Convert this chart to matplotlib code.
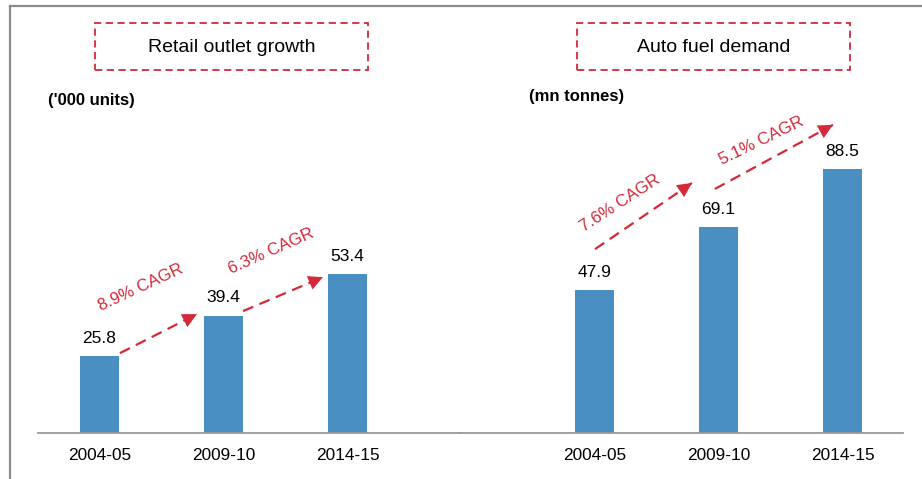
import matplotlib
matplotlib.use("Agg")
import matplotlib.pyplot as plt
from matplotlib.lines import Line2D
from matplotlib.patches import Rectangle

plt.rcParams['font.family'] = ['Liberation Sans', 'DejaVu Sans']

years = ["2004-05", "2009-10", "2014-15"]
outlets = [25.8, 39.4, 53.4]      # '000 units
fuel = [47.9, 69.1, 88.5]         # mn tonnes

# CAGR arrows: (label, start, end, text position, rotation) in data units
outlet_cagr = [("8.9% CAGR", (0.165, 26.8), (0.786, 39.9), (0.335, 48.7), 25),
               ("6.3% CAGR", (1.157, 40.9), (1.802, 52.3), (1.383, 61.1), 24)]
fuel_cagr = [("7.6% CAGR", (0.004, 61.7), (0.786, 83.9), (0.206, 77.2), 33),
             ("5.1% CAGR", (0.971, 81.9), (1.923, 103.4), (1.343, 98.0), 26)]

BLUE = "#4a8fc1"
RED = "#d62839"
GREY = "#999999"
W, H = 922, 479

fig = plt.figure(figsize=(W / 100, H / 100), dpi=100)


def px(x, y):
    return x / W, 1 - y / H


def panel(left, right, xlim, values, cagr):
    ax = fig.add_axes([left / W, 46 / H, (right - left) / W, 115 * 2.98 / H])
    x = range(len(values))
    ax.bar(x, values, width=0.315, color=BLUE)
    for xi, v in zip(x, values):
        ax.annotate(f"{v:.1f}", (xi, v), xytext=(0, 9.5), textcoords="offset points",
                    ha="center", va="baseline", fontsize=12.5)
    for label, start, end, tpos, rot in cagr:
        ax.plot([start[0], end[0]], [start[1], end[1]], color=RED, lw=1.6,
                ls=(0, (5, 3)))
        dx, dy = end[0] - start[0], end[1] - start[1]
        ax.annotate("", xy=end, xytext=(end[0] - dx * 0.02, end[1] - dy * 0.02),
                    arrowprops=dict(arrowstyle="-|>", color=RED, lw=0,
                                    mutation_scale=26))
        ax.text(tpos[0], tpos[1], label, color=RED, fontsize=12.2, rotation=rot,
                rotation_mode="anchor", ha="center", va="center")
    ax.set_xlim(*xlim)
    ax.set_ylim(0, 115)
    ax.set_xticks(list(x))
    ax.set_xticklabels(years, fontsize=12.4)
    ax.tick_params(axis="x", length=0, pad=11)
    ax.set_yticks([])
    for s in ["left", "right", "top"]:
        ax.spines[s].set_visible(False)
    ax.spines["bottom"].set_color(GREY)
    ax.spines["bottom"].set_linewidth(1.3)
    ax.patch.set_visible(False)
    return ax


panel(38, 460, (-0.496, 2.907), outlets, outlet_cagr)
panel(460, 903, (-1.085, 2.488), fuel, fuel_cagr)

# dashed title boxes
for (x0, x1), title in [((95, 368), "Retail outlet growth"), ((577, 850), "Auto fuel demand")]:
    fx, fy = px(x0, 70)
    fig.patches.append(Rectangle((fx, fy), (x1 - x0) / W, 47 / H, transform=fig.transFigure,
                                 fill=False, ec=RED, lw=1.3, ls=(0, (4, 2.5))))
    tx, ty = px((x0 + x1) / 2, 47)
    fig.text(tx, ty, title, ha="center", va="center", fontsize=14)

fig.text(*px(48, 100), "('000 units)", fontsize=12, fontweight="bold", va="center")
fig.text(*px(529, 97), "(mn tonnes)", fontsize=12, fontweight="bold", va="center")

# outer frame lines
fig.add_artist(Line2D([10 / W, 10 / W], [0, 1 - 6 / H], color="#8c8c8c", lw=1.6))
fig.add_artist(Line2D([10 / W, 1], [1 - 6 / H, 1 - 6 / H], color="#8c8c8c", lw=1.6))

fig.savefig("out.png", dpi=100)
